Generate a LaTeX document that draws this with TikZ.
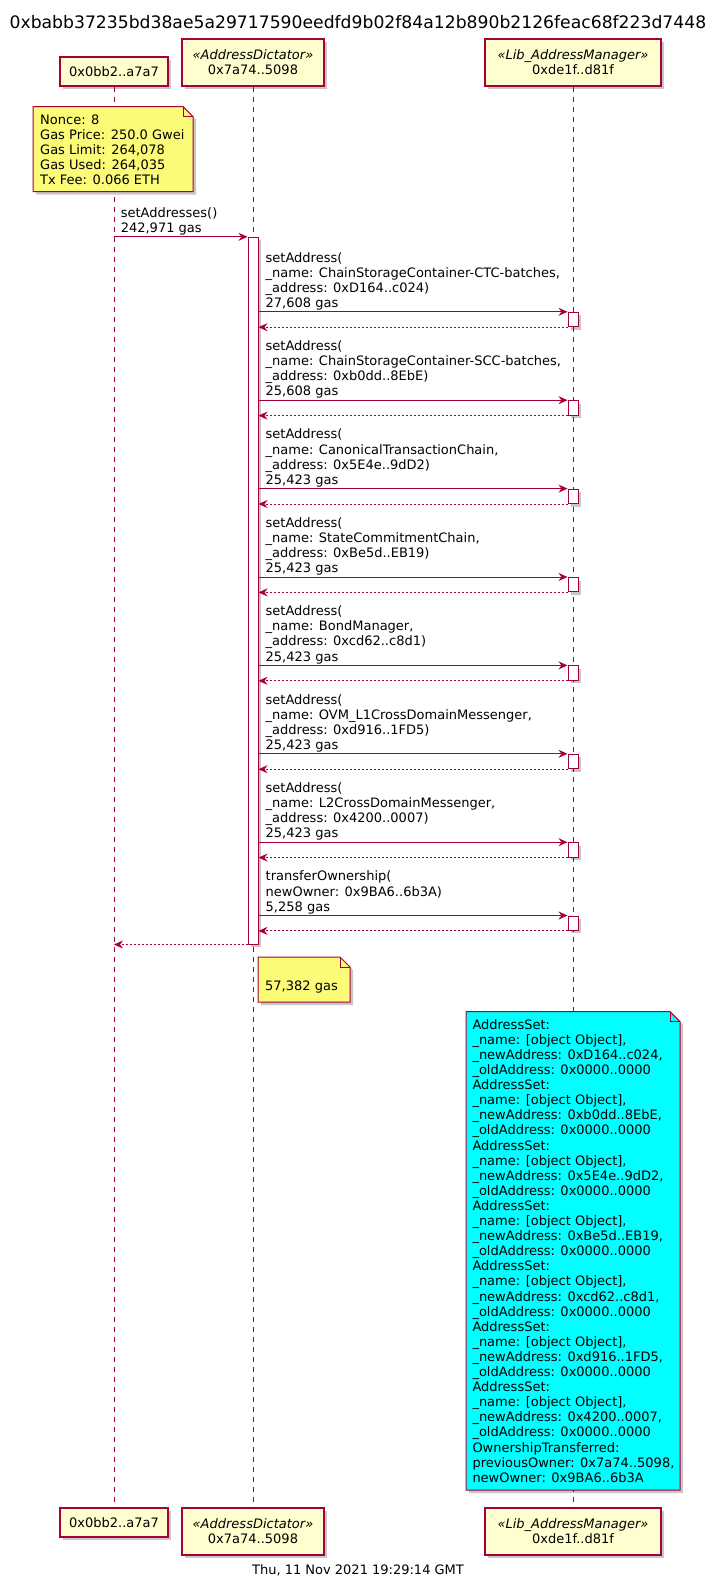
\documentclass[tikz,border=0pt]{standalone}
\usepackage{fontspec}
\setmainfont{DejaVu Sans}
\usetikzlibrary{arrows.meta,shadows}
\definecolor{pborder}{HTML}{A80036}
\definecolor{pfill}{HTML}{FEFECE}
\definecolor{notefill}{HTML}{FBFB77}
\definecolor{cyanfill}{HTML}{00FFFF}
\newcommand\dsz{\fontsize{13}{15.1}\selectfont}
\tikzset{
  myshadow/.style={drop shadow={shadow xshift=3pt,shadow yshift=-3pt,fill=black,opacity=0.22}},
  participant/.style={draw=pborder,fill=pfill,line width=1.2pt,inner sep=0pt,align=center,myshadow},
  lifeline/.style={draw=pborder,line width=0.8pt,dash pattern=on 5pt off 5pt},
  activation/.style={draw=pborder,fill=white,line width=1pt,minimum width=10pt,inner sep=0pt,myshadow},
  msg/.style={draw=pborder,line width=1pt,-{Stealth[length=9pt,width=8pt,inset=3pt]}},
  ret/.style={msg,dash pattern=on 2pt off 2pt},
  lbl/.style={anchor=south west,inner sep=0pt,align=left},
  notetext/.style={anchor=north west,inner sep=0pt,align=left},
  notepath/.style={draw=pborder,line width=1pt,myshadow},
}
\begin{document}
\begin{tikzpicture}[x=1pt,y=-1pt,font=\dsz]
\useasboundingbox[fill=white] (0,0) rectangle (723,1582);

% title and footer
\node[anchor=base,inner sep=0pt,font=\fontsize{17.2}{20}\selectfont] (title) at (358,28.3)
  {0xbabb37235bd38ae5a29717590eedfd9b02f84a12b890b2126feac68f223d7448};
\node[anchor=base,inner sep=0pt] (footer) at (358,1574.7) {Thu, 11 Nov 2021 19:29:14 GMT};

% participants
\node[participant,minimum width=108pt,minimum height=29pt] (p1top) at (114,71.5) {0x0bb2..a7a7};
\node[participant,minimum width=142pt,minimum height=47pt] (p2top) at (253,62.5) {{\itshape «AddressDictator»}\\0x7a74..5098};
\node[participant,minimum width=176pt,minimum height=47pt] (p3top) at (573,62.5) {{\itshape «Lib\_AddressManager»}\\0xde1f..d81f};
\node[participant,minimum width=108pt,minimum height=29pt] (p1bot) at (114,1522.5) {0x0bb2..a7a7};
\node[participant,minimum width=142pt,minimum height=47pt] (p2bot) at (253,1531.5) {{\itshape «AddressDictator»}\\0x7a74..5098};
\node[participant,minimum width=176pt,minimum height=47pt] (p3bot) at (573,1531.5) {{\itshape «Lib\_AddressManager»}\\0xde1f..d81f};

% lifelines
\draw[lifeline] (p1top.south) -- (p1bot.north);
\draw[lifeline] (p2top.south) -- (p2bot.north);
\draw[lifeline] (p3top.south) -- (p3bot.north);

% note 1
\path[notepath,fill=notefill] (33,106.7) -- (183,106.7) -- (193,116.7) -- (193,191.7) -- (33,191.7) -- cycle;
\draw[pborder,line width=1pt] (183,106.7) -- (183,116.7) -- (193,116.7);
\node[notetext] (note1) at (40,114.3) {Nonce: 8\\Gas Price: 250.0 Gwei\\Gas Limit: 264,078\\Gas Used: 264,035\\Tx Fee: 0.066 ETH};

% activation of AddressDictator
\node[activation,minimum height=706.7pt] (act2) at (253,590.65) {};

% first call
\node[lbl] (m0) at (120.6,235.3) {setAddresses()\\242,971 gas};
\draw[msg] (p1top |- act2.north) -- (act2.north west);

% inner calls
\node[activation,minimum height=14.4pt] (b0) at (573,319.5) {};
\node[activation,minimum height=14.4pt] (b1) at (573,407.9) {};
\node[activation,minimum height=14.4pt] (b2) at (573,496.3) {};
\node[activation,minimum height=14.4pt] (b3) at (573,584.7) {};
\node[activation,minimum height=14.4pt] (b4) at (573,673.1) {};
\node[activation,minimum height=14.4pt] (b5) at (573,761.5) {};
\node[activation,minimum height=14.4pt] (b6) at (573,849.9) {};
\node[activation,minimum height=14.4pt] (b7) at (573,923.2) {};

\node[lbl] (l0) at (265.5,310.3) {setAddress(\\\_name: ChainStorageContainer-CTC-batches,\\\_address: 0xD164..c024)\\27,608 gas};
\node[lbl] (l1) at (265.5,398.7) {setAddress(\\\_name: ChainStorageContainer-SCC-batches,\\\_address: 0xb0dd..8EbE)\\25,608 gas};
\node[lbl] (l2) at (265.5,487.1) {setAddress(\\\_name: CanonicalTransactionChain,\\\_address: 0x5E4e..9dD2)\\25,423 gas};
\node[lbl] (l3) at (265.5,575.5) {setAddress(\\\_name: StateCommitmentChain,\\\_address: 0xBe5d..EB19)\\25,423 gas};
\node[lbl] (l4) at (265.5,663.9) {setAddress(\\\_name: BondManager,\\\_address: 0xcd62..c8d1)\\25,423 gas};
\node[lbl] (l5) at (265.5,752.3) {setAddress(\\\_name: OVM\_L1CrossDomainMessenger,\\\_address: 0xd916..1FD5)\\25,423 gas};
\node[lbl] (l6) at (265.5,840.7) {setAddress(\\\_name: L2CrossDomainMessenger,\\\_address: 0x4200..0007)\\25,423 gas};
\node[lbl] (l7) at (265.5,914) {transferOwnership(\\newOwner: 0x9BA6..6b3A)\\5,258 gas};

\foreach \b in {b0,b1,b2,b3,b4,b5,b6,b7}{
  \draw[msg] (act2.east |- \b.north west) -- (\b.north west);
  \draw[ret] (\b.south west) -- (act2.east |- \b.south west);
}

% return to caller
\draw[ret] (act2.south west) -- (p1top |- act2.south);

% gas note
\path[notepath,fill=notefill] (258,957) -- (340,957) -- (350,967) -- (350,1002) -- (258,1002) -- cycle;
\draw[pborder,line width=1pt] (340,957) -- (340,967) -- (350,967);
\node[lbl] (note2) at (265,993.8) {57,382 gas};

% events note
\path[notepath,fill=cyanfill] (466,1011.7) -- (670,1011.7) -- (680,1021.7) -- (680,1490) -- (466,1490) -- cycle;
\draw[pborder,line width=1pt] (670,1011.7) -- (670,1021.7) -- (680,1021.7);
\node[notetext] (note3) at (472.3,1019.2) {AddressSet:\\
\_name: [object Object],\\
\_newAddress: 0xD164..c024,\\
\_oldAddress: 0x0000..0000\\
AddressSet:\\
\_name: [object Object],\\
\_newAddress: 0xb0dd..8EbE,\\
\_oldAddress: 0x0000..0000\\
AddressSet:\\
\_name: [object Object],\\
\_newAddress: 0x5E4e..9dD2,\\
\_oldAddress: 0x0000..0000\\
AddressSet:\\
\_name: [object Object],\\
\_newAddress: 0xBe5d..EB19,\\
\_oldAddress: 0x0000..0000\\
AddressSet:\\
\_name: [object Object],\\
\_newAddress: 0xcd62..c8d1,\\
\_oldAddress: 0x0000..0000\\
AddressSet:\\
\_name: [object Object],\\
\_newAddress: 0xd916..1FD5,\\
\_oldAddress: 0x0000..0000\\
AddressSet:\\
\_name: [object Object],\\
\_newAddress: 0x4200..0007,\\
\_oldAddress: 0x0000..0000\\
OwnershipTransferred:\\
previousOwner: 0x7a74..5098,\\
newOwner: 0x9BA6..6b3A};
\end{tikzpicture}
\end{document}
